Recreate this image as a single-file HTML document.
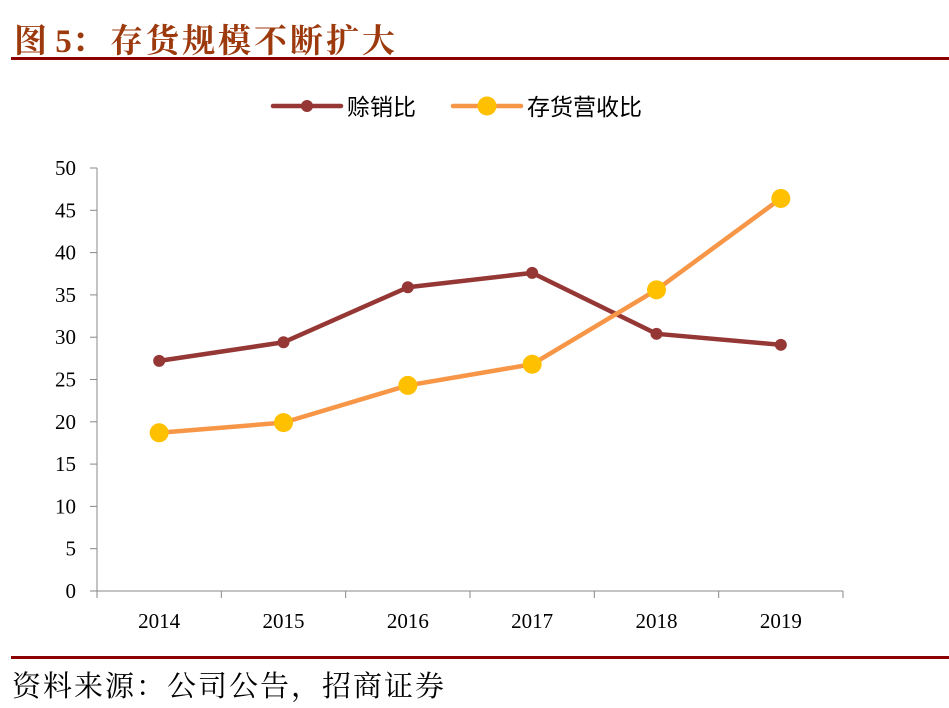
<!DOCTYPE html>
<html><head><meta charset="utf-8"><style>
body{margin:0;background:#fff;width:949px;height:708px;overflow:hidden;position:relative}
.t{position:absolute;font-family:"Liberation Serif","Noto Serif CJK SC",serif}
</style></head><body>
<div class="t" style="left:14px;top:15px;font-size:33px;font-weight:bold;color:#9C3A0E;white-space:nowrap">图 5：</div>
<div class="t" style="left:110px;top:15px;font-size:33px;letter-spacing:3px;font-weight:bold;color:#9C3A0E;white-space:nowrap">存货规模不断扩大</div>
<div style="position:absolute;left:11px;top:57px;width:938px;height:3px;background:#8B0000"></div>
<div style="position:absolute;left:11px;top:656px;width:938px;height:3px;background:#8B0000"></div>
<div class="t" style="left:12px;top:664px;font-size:29px;letter-spacing:2px;color:#000;white-space:nowrap">资料来源：公司公告，招商证券</div>
<svg id="c" width="949" height="708" style="position:absolute;left:0;top:0"></svg>
<script>
const categories=["2014","2015","2016","2017","2018","2019"];
const salesRatio=[27.2,29.4,35.9,37.6,30.4,29.1];
const inventoryRatio=[18.7,19.9,24.3,26.8,35.6,46.4];
const yTicks=[0,5,10,15,20,25,30,35,40,45,50];
const svg=document.getElementById('c');const NS='http://www.w3.org/2000/svg';
const X0=97,X1=843,Y0=591,Y1=168,YMAX=50;
const step=(X1-X0)/categories.length;
const xs=i=>X0+step*(i+0.5);
const ys=v=>Y0-(v/YMAX)*(Y0-Y1);
function mk(tag,a,txt){const e=document.createElementNS(NS,tag);for(const k in a)e.setAttribute(k,a[k]);if(txt!=null)e.textContent=txt;svg.appendChild(e);return e;}
const F='"Liberation Serif","Noto Serif CJK SC",serif';
let e=mk('line',{x1:X0,y1:Y1,x2:X0,y2:Y0,stroke:'#888','stroke-width':1});

e=mk('line',{x1:X0,y1:Y0,x2:X1,y2:Y0,stroke:'#888','stroke-width':1});

yTicks.forEach(v=>{
 e=mk('line',{x1:X0-7,y1:ys(v),x2:X0,y2:ys(v),stroke:'#888'});
 
 e=mk('text',{x:76,y:ys(v)+7,'text-anchor':'end','font-family':F,'font-size':21,fill:'#000'},v);
 
});
for(let i=0;i<=categories.length;i++){
 e=mk('line',{x1:X0+step*i,y1:Y0,x2:X0+step*i,y2:Y0+7,stroke:'#888'});
 
}
categories.forEach((c,i)=>{
 e=mk('text',{x:xs(i),y:628,'text-anchor':'middle','font-family':F,'font-size':21,fill:'#000'},c);
 
});
function series(vals,color,mcolor,r,name){
 e=mk('polyline',{points:vals.map((v,i)=>xs(i)+','+ys(v)).join(' '),fill:'none',stroke:color,'stroke-width':4.5,'stroke-linejoin':'round'});
 
 vals.forEach((v,i)=>{e=mk('circle',{cx:xs(i),cy:ys(v),r:r,fill:mcolor});
 });
}
series(salesRatio,'#953735','#953735',6,'sales-ratio');
series(inventoryRatio,'#F79646','#FFC000',9.5,'inventory-ratio');
e=mk('line',{x1:273,y1:106,x2:341,y2:106,stroke:'#953735','stroke-width':4.5,'stroke-linecap':'round'});

e=mk('circle',{cx:307,cy:106,r:6,fill:'#953735'});

e=mk('text',{x:347,y:115,'font-family':'"Liberation Sans","Noto Sans CJK SC",sans-serif','font-size':23,fill:'#000'},'赊销比');

e=mk('line',{x1:453,y1:106,x2:521,y2:106,stroke:'#F79646','stroke-width':4.5,'stroke-linecap':'round'});

e=mk('circle',{cx:487,cy:106,r:9.5,fill:'#FFC000'});

e=mk('text',{x:527,y:115,'font-family':'"Liberation Sans","Noto Sans CJK SC",sans-serif','font-size':23,fill:'#000'},'存货营收比');

</script>
</body></html>
